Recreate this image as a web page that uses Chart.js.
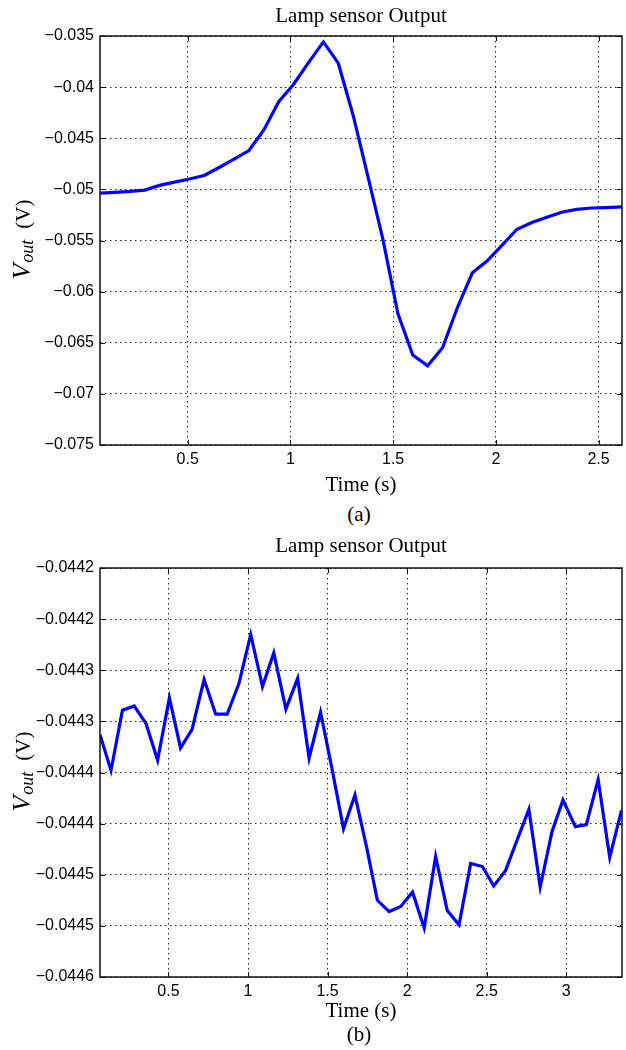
<!DOCTYPE html>
<html>
<head>
<meta charset="utf-8">
<script src="https://cdn.jsdelivr.net/npm/chart.js@4.4.0/dist/chart.umd.min.js"></script>
<style>
  html, body { margin: 0; padding: 0; background: #fff; }
  body { width: 626px; height: 1050px; position: relative; overflow: hidden; }
  .wrap { position: absolute; left: 0; width: 626px; height: 500px; }
  .cap { position: absolute; left: 309px; width: 100px; text-align: center;
         font-family: 'Liberation Serif', 'Times New Roman', serif; font-size: 21px; line-height: 24px; color: #000; }
</style>
</head>
<body>
<div class="wrap" style="top:0"><canvas id="chartA" width="626" height="500"></canvas></div>
<div class="cap" style="top:502px">(a)</div>
<div class="wrap" style="top:532px"><canvas id="chartB" width="626" height="500"></canvas></div>
<div class="cap" style="top:1022px">(b)</div>
<script>
// ---------- Data (a) ----------
const timeA = [0.073, 0.1455, 0.218, 0.2905, 0.363, 0.4355, 0.508, 0.5805, 0.653, 0.7255,
  0.798, 0.8705, 0.943, 1.0155, 1.088, 1.1605, 1.233, 1.3055, 1.378, 1.4505,
  1.523, 1.5955, 1.668, 1.7405, 1.813, 1.8855, 1.958, 2.0305, 2.103, 2.1755,
  2.248, 2.3205, 2.393, 2.4655, 2.538, 2.614];
const voutA = [-0.05036, -0.05029, -0.05020, -0.05007, -0.04961, -0.04929, -0.04899, -0.04864, -0.04786, -0.04705,
  -0.04620, -0.04419, -0.04143, -0.03971, -0.03760, -0.03558, -0.03766, -0.04277, -0.04879, -0.05491,
  -0.06214, -0.06620, -0.06725, -0.06549, -0.06155, -0.05816, -0.05699, -0.05546, -0.05390, -0.05325,
  -0.05273, -0.05224, -0.05195, -0.05182, -0.05178, -0.05172];
const xTicksA = [0.5, 1, 1.5, 2, 2.5];
const xTickLabelsA = ['0.5', '1', '1.5', '2', '2.5'];
const yTicksA = [-0.035, -0.04, -0.045, -0.05, -0.055, -0.06, -0.065, -0.07, -0.075];
const yTickLabelsA = ['\u22120.035', '\u22120.04', '\u22120.045', '\u22120.05', '\u22120.055', '\u22120.06', '\u22120.065', '\u22120.07', '\u22120.075'];

// ---------- Data (b) ----------
const timeB = [0.070, 0.139, 0.211, 0.285, 0.359, 0.432, 0.506, 0.576, 0.648, 0.724,
  0.797, 0.869, 0.943, 1.017, 1.091, 1.162, 1.238, 1.312, 1.384, 1.456,
  1.530, 1.600, 1.672, 1.745, 1.813, 1.887, 1.960, 2.034, 2.107, 2.179,
  2.252, 2.326, 2.399, 2.473, 2.544, 2.618, 2.691, 2.765, 2.836, 2.910,
  2.979, 3.057, 3.126, 3.200, 3.273, 3.347];
const voutB = [-0.044363, -0.044398, -0.044339, -0.044335, -0.044352, -0.044388, -0.044327, -0.044376, -0.044358, -0.044309,
  -0.044343, -0.044343, -0.044313, -0.044265, -0.044316, -0.044283, -0.044338, -0.044308, -0.044386, -0.044341,
  -0.044398, -0.044455, -0.044422, -0.044473, -0.044525, -0.044536, -0.044531, -0.044517, -0.044552, -0.044482,
  -0.044535, -0.044549, -0.044489, -0.044492, -0.044511, -0.044496, -0.044466, -0.044436, -0.044512, -0.044458,
  -0.044427, -0.044453, -0.044451, -0.044407, -0.044483, -0.044437];
const xTicksB = [0.5, 1, 1.5, 2, 2.5, 3];
const xTickLabelsB = ['0.5', '1', '1.5', '2', '2.5', '3'];
const yTicksB = [-0.0442, -0.04425, -0.0443, -0.04435, -0.0444, -0.04445, -0.0445, -0.04455, -0.0446];
const yTickLabelsB = ['\u22120.0442', '\u22120.0442', '\u22120.0443', '\u22120.0443', '\u22120.0444', '\u22120.0444', '\u22120.0445', '\u22120.0445', '\u22120.0446'];

const titleText = 'Lamp sensor Output';
const xTitleText = 'Time (s)';

const SERIF = "'Liberation Serif', 'Times New Roman', serif";
const SANS = "'Liberation Sans', Arial, Helvetica, sans-serif";

const framePlugin = {
  id: 'matlabFrame',
  afterDraw(chart) {
    const ctx = chart.ctx, a = chart.chartArea;
    ctx.save();
    ctx.strokeStyle = '#111';
    ctx.lineWidth = 1.5;
    ctx.setLineDash([]);
    ctx.strokeRect(a.left, a.top, a.right - a.left, a.bottom - a.top);
    ctx.lineWidth = 1;
    const tl = 5;
    const xs = chart.scales.x, ys = chart.scales.y;
    xs.ticks.forEach(t => {
      const p = Math.round(xs.getPixelForValue(t.value)) + 0.5;
      ctx.beginPath();
      ctx.moveTo(p, a.bottom); ctx.lineTo(p, a.bottom - tl);
      ctx.moveTo(p, a.top); ctx.lineTo(p, a.top + tl);
      ctx.stroke();
    });
    ys.ticks.forEach(t => {
      const p = Math.round(ys.getPixelForValue(t.value)) + 0.5;
      ctx.beginPath();
      ctx.moveTo(a.left, p); ctx.lineTo(a.left + tl, p);
      ctx.moveTo(a.right, p); ctx.lineTo(a.right - tl, p);
      ctx.stroke();
    });
    // y-axis label: V_out (V)
    ctx.translate(20, (a.top + a.bottom) / 2 - 1);
    ctx.rotate(-Math.PI / 2);
    ctx.fillStyle = '#000';
    ctx.textBaseline = 'alphabetic';
    const f1 = 'italic 26px ' + SERIF, f2 = 'italic 18px ' + SERIF, f3 = '21px ' + SERIF;
    ctx.font = f1; const w1 = ctx.measureText('V').width;
    ctx.font = f2; const w2 = ctx.measureText('out').width;
    ctx.font = f3; const w3 = ctx.measureText('(V)').width;
    const gap = 11;
    let x = -(w1 + w2 + w3 + gap + 1) / 2;
    const base = 10;
    ctx.font = f1; ctx.fillText('V', x, base); x += w1 + 1;
    ctx.font = f2; ctx.fillText('out', x, base + 3); x += w2 + gap;
    ctx.font = f3; ctx.fillText('(V)', x, base);
    ctx.restore();
  }
};

function makeChart(id, times, vals, xMin, xMax, yMin, yMax, xTicks, xLabels, yTicks, yLabels, titlePad, xTitlePadBottom) {
  return new Chart(document.getElementById(id), {
    type: 'line',
    data: {
      datasets: [{
        data: times.map((t, i) => ({ x: t, y: vals[i] })),
        borderColor: '#0000ff',
        borderWidth: 3.2,
        pointRadius: 0,
        tension: 0,
        fill: false
      }]
    },
    options: {
      responsive: false,
      animation: false,
      events: [],
      layout: { padding: { left: 0, right: 4, top: 0, bottom: 0 } },
      plugins: {
        legend: { display: false },
        tooltip: { enabled: false },
        title: {
          display: true,
          fullSize: false,
          text: titleText,
          color: '#000',
          font: { family: SERIF, size: 21, weight: 'normal', lineHeight: 1.2 },
          padding: titlePad
        }
      },
      scales: {
        x: {
          type: 'linear',
          min: xMin, max: xMax,
          afterFit: s => { s.height = 55; },
          afterBuildTicks: s => { s.ticks = xTicks.map(v => ({ value: v })); },
          ticks: {
            callback: (v, i) => xLabels[i],
            color: '#000',
            font: { family: SANS, size: 16 },
            padding: 5,
            maxRotation: 0,
            autoSkip: false
          },
          grid: { color: '#222', lineWidth: 1, drawTicks: false, borderDash: [1.5, 3.5] },
          border: { display: false, dash: [1.5, 3.5] },
          title: {
            display: true,
            text: xTitleText,
            color: '#000',
            font: { family: SERIF, size: 21, weight: 'normal', lineHeight: 1.2 },
            padding: { top: 0, bottom: xTitlePadBottom }
          }
        },
        y: {
          type: 'linear',
          min: yMin, max: yMax,
          afterFit: s => { s.width = 100; },
          afterBuildTicks: s => { s.ticks = yTicks.map(v => ({ value: v })); },
          ticks: {
            callback: (v, i) => yLabels[i],
            color: '#000',
            font: { family: SANS, size: 16 },
            padding: 6,
            autoSkip: false
          },
          grid: { color: '#222', lineWidth: 1, drawTicks: false, borderDash: [1.5, 3.5] },
          border: { display: false, dash: [1.5, 3.5] }
        }
      }
    },
    plugins: [framePlugin]
  });
}

makeChart('chartA', timeA, voutA, 0.073, 2.614, -0.075, -0.035, xTicksA, xTickLabelsA, yTicksA, yTickLabelsA,
  { top: 4, bottom: 6.8 }, 2.4);
makeChart('chartB', timeB, voutB, 0.07, 3.35, -0.0446, -0.0442, xTicksB, xTickLabelsB, yTicksB, yTickLabelsB,
  { top: 2, bottom: 8.8 }, 8);
</script>
</body>
</html>
